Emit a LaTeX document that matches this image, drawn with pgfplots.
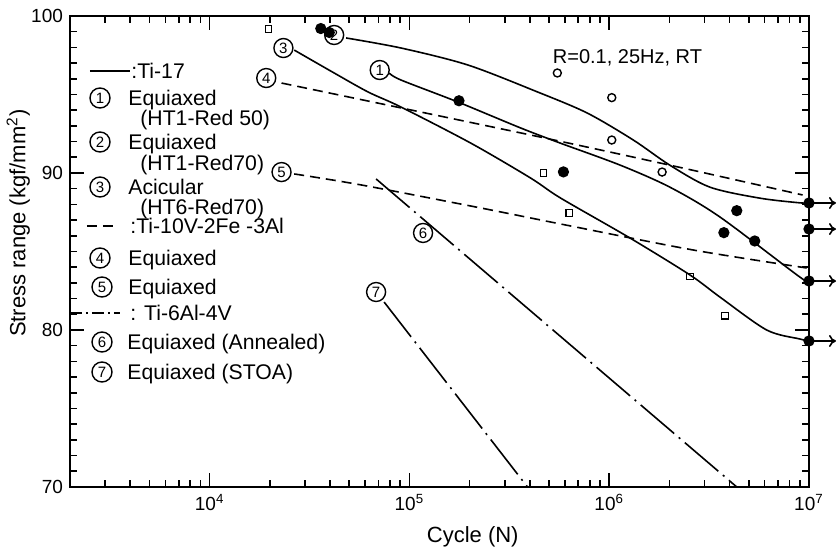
\documentclass[border=0pt]{standalone}
\usepackage{pgfplots}
\pgfplotsset{compat=1.18}
\usetikzlibrary{arrows.meta}
\usepackage{fontspec}
\setmainfont{Liberation Sans}
\begin{document}
\begin{tikzpicture}[
  cn/.style={circle,draw,line width=0.7pt,inner sep=0pt,minimum size=9.5pt,anchor=center,
    font=\fontsize{7.5}{8}\selectfont},
  dashd/.style={dash pattern=on 5pt off 3pt},
  dashdot/.style={dash pattern=on 22pt off 3pt on 1pt off 3pt},
  runout/.style={-{To[length=3.5pt,width=6pt]}, line width=0.8pt},
]
\begin{axis}[
  scale only axis, width=369.5pt, height=235.5pt,
  xmode=log, xmin=2000, xmax=1e7, ymin=70, ymax=100,
  xtick={1e4,1e5,1e6,1e7},
  xticklabels={10\textsuperscript{4},10\textsuperscript{5},10\textsuperscript{6},10\textsuperscript{7}},
  minor xtick={2000,3000,4000,5000,6000,7000,8000,9000,
    20000,30000,40000,50000,60000,70000,80000,90000,
    2e5,3e5,4e5,5e5,6e5,7e5,8e5,9e5,
    2e6,3e6,4e6,5e6,6e6,7e6,8e6,9e6},
  ytick={70,80,90,100}, minor y tick num=9,
  major tick length=7pt, minor tick length=3.5pt,
  every tick/.style={black, line width=0.8pt},
  axis line style={line width=1pt},
  tick label style={font=\fontsize{9.5}{10}\selectfont},
  /pgf/number format/assume math mode=true,
  xlabel={Cycle (N)}, ylabel={Stress range (kgf/mm\textsuperscript{2})},
  label style={font=\fontsize{11}{12}\selectfont},
  xlabel style={at={(axis description cs:0.545,-0.106)}, anchor=center},
  ylabel style={at={(axis description cs:-0.07,0.56)}, anchor=center},
  clip=false,
  every axis plot/.append style={line width=0.8pt, black},
]
\coordinate (nw) at (rel axis cs:0,1);

% Ti-17 (solid)
\addplot[smooth] coordinates {(4.82e4,98.6)(9.08e4,97.96)(1.96e5,96.88)(4.38e5,95.16)(7.76e5,93.82)(1.32e6,92.1)(2.01e6,90.5)(3.19e6,89.1)(5.66e6,88.4)(8.98e6,88.1)(1e7,88.09)};
\addplot[smooth] coordinates {(7.91e4,96.37)(9.08e4,95.92)(1.75e5,94.52)(3.6e5,92.87)(5.7e5,91.9)(1.135e6,90.5)(2.01e6,89.1)(3.58e6,87.2)(8.98e6,83.38)(1e7,83.12)};
\addplot[smooth] coordinates {(2.65e4,97.83)(4.2e4,96.37)(6.21e4,95.16)(9.08e4,94.2)(2.03e5,91.9)(4.04e5,89.68)(5.7e5,88.41)(1.27e6,85.86)(2.54e6,83.5)(3.58e6,82.1)(6.14e6,80.0)(8.98e6,79.43)(1e7,79.3)};
% Ti-10V-2Fe-3Al (dashed)
\addplot[dashd, smooth] coordinates {(2.29e4,95.73)(4.04e5,92.42)(2.01e6,90.5)(9.29e6,88.6)};
\addplot[dashd, smooth] coordinates {(2.65e4,89.94)(5.73e4,89.24)(2.28e5,87.77)(6.04e5,86.69)(2.62e6,85.1)(9.73e6,83.95)};
% Ti-6Al-4V (dash-dot)
\addplot[dashdot] coordinates {(6.81e4,89.62)(4.35e6,70.0)};
\addplot[dashdot] coordinates {(7.47e4,81.78)(3.9e5,70.0)};

% data points
\addplot[only marks, mark=square, mark size=1.6pt, mark options={solid, line width=0.6pt}] coordinates {(1.97e4,99.17)(4.69e5,90.0)(6.3e5,87.45)(2.54e6,83.4)(3.8e6,80.9)};
\addplot[only marks, mark=o, mark size=2pt, mark options={solid, line width=0.7pt}] coordinates {(5.5e5,96.37)(1.03e6,94.8)(1.03e6,92.1)(1.84e6,90.06)};
\addplot[only marks, mark=*, mark size=2.4pt, mark options={solid}] coordinates {(3.6e4,99.2)(3.97e4,98.95)(1.77e5,94.6)(5.9e5,90.07)(4.35e6,87.6)(3.75e6,86.2)(5.35e6,85.67)};
% run-outs
\addplot[only marks, mark=*, mark size=2.4pt, mark options={solid}] coordinates {(1e7,88.09)(1e7,86.43)(1e7,83.12)(1e7,79.30)};
\draw[runout] (axis cs:1e7,88.09) -- ([xshift=13.5pt]axis cs:1e7,88.09);
\draw[runout] (axis cs:1e7,86.43) -- ([xshift=13.5pt]axis cs:1e7,86.43);
\draw[runout] (axis cs:1e7,83.12) -- ([xshift=13.5pt]axis cs:1e7,83.12);
\draw[runout] (axis cs:1e7,79.30) -- ([xshift=13.5pt]axis cs:1e7,79.30);

% curve labels
\node[cn] at (axis cs:7.1e4,96.56) {1};
\node[cn] at (axis cs:4.2e4,98.79) {2};
\node[cn] at (axis cs:2.34e4,97.96) {3};
\node[cn] at (axis cs:1.92e4,96.05) {4};
\node[cn] at (axis cs:2.29e4,90.06) {5};
\node[cn] at (axis cs:1.17e5,86.18) {6};
\node[cn] at (axis cs:6.81e4,82.42) {7};
\node[font=\fontsize{10}{11}\selectfont, anchor=west, inner sep=0pt] at (axis cs:5.2e5,97.35) {R=0.1, 25Hz, RT};
\end{axis}

\begin{scope}[shift={([shift={(-35pt,8pt)}]nw)}, x=0.5pt, y=-0.5pt,
  tx/.style={inner sep=0pt, anchor=base west, font=\fontsize{10.6}{12}\selectfont}]
\draw[line width=0.8pt] (90,71) -- (130,71);
\node[tx] at (131,79) {:Ti-17};
\node[cn, minimum size=10pt] at (100,98) {1};
\node[tx] at (128,106) {Equiaxed};
\node[tx] at (140,126) {(HT1-Red 50)};
\node[cn, minimum size=10pt] at (100,142) {2};
\node[tx] at (128,150) {Equiaxed};
\node[tx] at (140,171) {(HT1-Red70)};
\node[cn, minimum size=10pt] at (100,187) {3};
\node[tx] at (128,195) {Acicular};
\node[tx] at (140,215) {(HT6-Red70)};
\draw[line width=0.8pt, dash pattern=on 5pt off 3pt] (87,226) -- (114,226);
\node[tx] at (130,234) {:Ti-10V-2Fe -3Al};
\node[cn, minimum size=10pt] at (100,258) {4};
\node[tx] at (128,266) {Equiaxed};
\node[cn, minimum size=10pt] at (102,287) {5};
\node[tx] at (128,295) {Equiaxed};
\draw[line width=0.8pt, dash pattern=on 6pt off 2pt on 1pt off 2pt] (70,313) -- (120,313);
\node[tx] at (130,321) {: Ti-6Al-4V};
\node[cn, minimum size=10pt] at (102,342) {6};
\node[tx] at (127,350) {Equiaxed (Annealed)};
\node[cn, minimum size=10pt] at (102,372) {7};
\node[tx] at (127,380) {Equiaxed (STOA)};
\pgfresetboundingbox
\path[use as bounding box] (0,0) rectangle (837,552);
\end{scope}
\end{tikzpicture}
\end{document}
